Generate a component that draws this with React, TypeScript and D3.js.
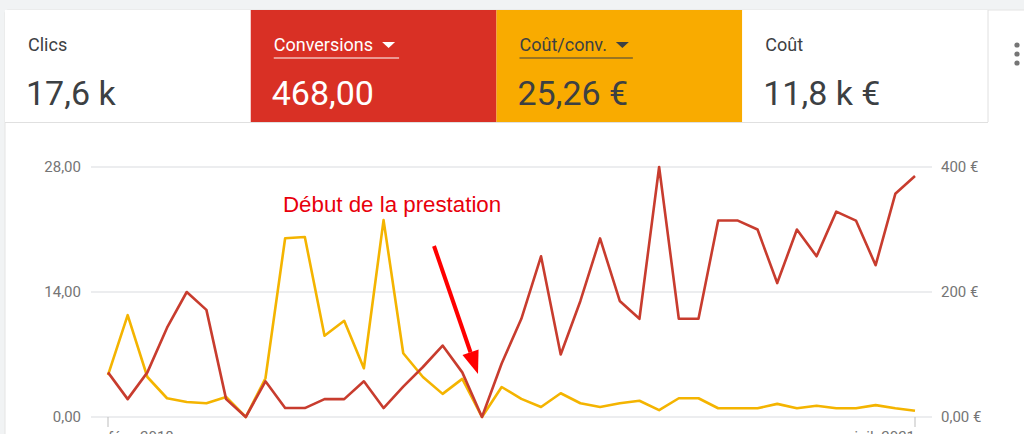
import React, { useLayoutEffect, useRef, useState } from "react";
import * as d3 from "d3";

const metricLabels = ["Clics", "Conversions", "Coût/conv.", "Coût"];
const metricValues = ["17,6 k", "468,00", "25,26 €", "11,8 k €"];
const metricFills = ["#ffffff", "#d93025", "#f9ab00", "#ffffff"];
const metricText = ["#3c4043", "#ffffff", "#3c4043", "#3c4043"];
const metricSelected = [false, true, true, false];

const conversions = [5, 2, 5, 10, 14, 12, 2, 0, 4, 1, 1, 2, 2, 4, 1, 3.4, 5.6, 8, 5, 0, 6, 11, 18, 7, 13, 20, 13, 11, 28, 11, 11, 22, 22, 21, 15, 21, 18, 23, 22, 17, 25, 27];
const costPerConv = [67, 163, 64, 30, 24, 22, 32, 0, 62, 286, 288, 130, 154, 78, 315, 102, 64, 37, 61, 0, 48, 29, 16, 38, 22, 16, 22, 26, 11, 30, 30, 14, 14, 14, 21, 14, 18, 14, 14, 19, 14, 10];
const leftTicks = [0, 14, 28];
const rightTicks = [0, 200, 400];
const xTickLabels = ["févr. 2018", "juil. 2021"];
const annotation = "Début de la prestation";

const fmtLeft = (v: number) => v.toFixed(2).replace(".", ",");
const fmtRight = (v: number) => (v === 0 ? "0,00 €" : `${v} €`);

export default function App() {
  const W = 1024, H = 434;
  const n = conversions.length;
  const x = d3.scaleLinear().domain([0, n - 1]).range([108, 915]);
  const yL = d3.scaleLinear().domain([0, 28]).range([417, 167]);
  const yR = d3.scaleLinear().domain([0, 400]).range([417, 167]);
  const lineL = d3.line<number>().x((_, i) => x(i)).y((d) => yL(d));
  const lineR = d3.line<number>().x((_, i) => x(i)).y((d) => yR(d));

  const tileX = d3.scaleLinear().domain([0, 4]).range([5, 988]);
  const font = "Roboto, 'Noto Sans', sans-serif";

  const labelRefs = useRef<(SVGTextElement | null)[]>([]);
  const [widths, setWidths] = useState<number[]>(metricLabels.map((l) => l.length * 9));
  useLayoutEffect(() => {
    const w = labelRefs.current.map((el, i) => (el ? el.getComputedTextLength() : metricLabels[i].length * 9));
    setWidths(w);
  }, []);

  // arrow
  const ax0 = 434, ay0 = 246, tx = 478, ty = 374;
  const len = Math.hypot(tx - ax0, ty - ay0);
  const ux = (tx - ax0) / len, uy = (ty - ay0) / len;
  const headL = 23, headW = 8.5;
  const bx = tx - headL * ux, by = ty - headL * uy;
  const px = -uy, py = ux;

  return (
    <svg width={W} height={H} style={{ position: "absolute", left: 0, top: 0, background: "#f1f3f4" }}>
      <rect x={5} y={10} width={W} height={H} rx={3} fill="#ffffff" stroke="#e4e4e4" />
      {metricLabels.map((lab, i) => {
        const x0 = tileX(i), x1 = tileX(i + 1);
        const te = x0 + 23 + widths[i];
        return (
          <g key={lab}>
            <rect x={x0} y={10} width={x1 - x0} height={112} fill={metricFills[i]} />
            <text ref={(el) => { labelRefs.current[i] = el; }} x={x0 + 23} y={51} fontFamily={font} fontSize={18} fill={metricText[i]}>{lab}</text>
            {metricSelected[i] && (
              <>
                <path d={`M${te + 9},${42} l13,0 l-6.5,6 z`} fill={metricText[i]} />
                <line x1={x0 + 23} x2={te + 26} y1={58} y2={58} stroke={metricText[i]} strokeWidth={1.2} />
              </>
            )}
            <text x={x0 + 21} y={105} fontFamily={font} fontSize={34} fill={metricText[i]}>{metricValues[i]}</text>
          </g>
        );
      })}
      <line x1={988} x2={988} y1={10} y2={122} stroke="#e0e0e0" />
      <line x1={5} x2={988} y1={122.5} y2={122.5} stroke="#e0e0e0" />
      {[45, 54, 63].map((cy) => (
        <circle key={cy} cx={1017} cy={cy} r={2.6} fill="#757575" />
      ))}

      {leftTicks.map((t) => (
        <g key={t}>
          <line x1={91} x2={932} y1={yL(t)} y2={yL(t)} stroke="#dadce0" strokeWidth={1.2} />
          <text x={81} y={yL(t) + 5} textAnchor="end" fontFamily={font} fontSize={15} fill="#757575">{fmtLeft(t)}</text>
        </g>
      ))}
      {rightTicks.map((t) => (
        <text key={t} x={941} y={yR(t) + 5} fontFamily={font} fontSize={15} fill="#757575">{fmtRight(t)}</text>
      ))}
      {[0, n - 1].map((i, k) => (
        <g key={i}>
          <line x1={x(i)} x2={x(i)} y1={417} y2={427} stroke="#bdbdbd" />
          <text x={x(i)} y={442} textAnchor={k === 0 ? "start" : "end"} fontFamily={font} fontSize={15} fill="#757575">{xTickLabels[k]}</text>
        </g>
      ))}

      <path d={lineR(costPerConv) ?? ""} fill="none" stroke="#f4b400" strokeWidth={2.6} strokeLinejoin="round" />
      <path d={lineL(conversions) ?? ""} fill="none" stroke="#c83c2e" strokeWidth={2.6} strokeLinejoin="round" />

      <text x={283} y={212} fontFamily="'Liberation Sans', Arial, sans-serif" fontSize={22.3} fill="#e8000b">{annotation}</text>
      <line x1={ax0} y1={ay0} x2={bx} y2={by} stroke="#ff0000" strokeWidth={4} />
      <path d={`M${tx},${ty} L${bx + headW * px},${by + headW * py} L${bx - headW * px},${by - headW * py} Z`} fill="#ff0000" />
    </svg>
  );
}
